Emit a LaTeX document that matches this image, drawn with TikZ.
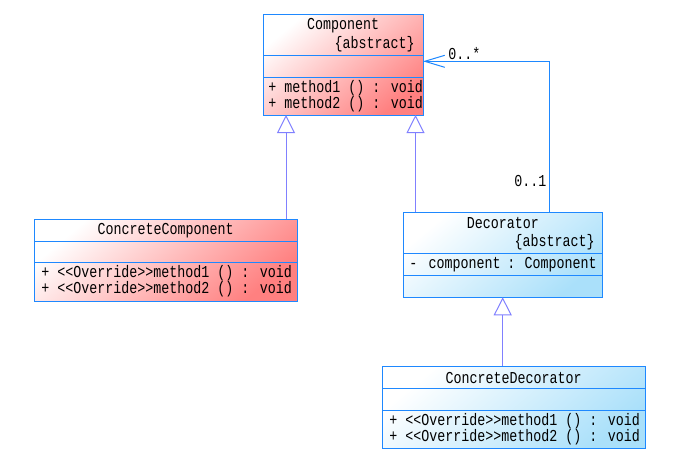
\documentclass[tikz,border=0pt]{standalone}
\usepackage{fontspec}
\newfontfamily\umlfont{Liberation Mono}
\usetikzlibrary{arrows.meta}
\definecolor{bordc}{RGB}{30,136,255}
\definecolor{inhc}{RGB}{128,128,255}
\definecolor{redend}{RGB}{255,128,128}
\definecolor{blueend}{RGB}{170,224,250}
\newcommand\umltxt[1]{\scalebox{1}[1.25]{#1}}
\tikzset{
  classbox/.style={rectangle, draw=bordc, line width=0.75pt, inner sep=0pt, outer sep=0pt},
  redbox/.style={classbox, top color=white, bottom color=redend, shading angle=40},
  bluebox/.style={classbox, top color=white, bottom color=blueend, shading angle=40},
  divider/.style={draw=bordc, line width=0.75pt},
  txt/.style={font=\umlfont\fontsize{10}{12}\selectfont, inner sep=0pt, text=black},
  inh/.style={draw=inhc, line width=0.75pt, -{Triangle[open, length=13.5pt, width=13.5pt]}},
  assoc/.style={draw=bordc, line width=0.75pt, -{Straight Barb[length=15pt, width=9pt]}}
}
\begin{document}
\begin{tikzpicture}[x=0.75pt, y=-0.75pt]
\useasboundingbox (0,0) rectangle (698,462);
% classes
\node[redbox, minimum width=120pt, minimum height=75.75pt] (comp) at (343,64.5) {};
\draw[divider] (comp.west |- 0,55.5) -- (comp.east |- 0,55.5);
\draw[divider] (comp.west |- 0,77) -- (comp.east |- 0,77);
\node[txt] (compname) at (343,26) {\umltxt{Component}};
\node[txt, anchor=east] (compabs) at (415,44) {\umltxt{\{abstract\}}};
\node[txt, anchor=west] (compm1) at (268,88) {\umltxt{+ method1 () : void}};
\node[txt, anchor=west] (compm2) at (268,104) {\umltxt{+ method2 () : void}};

\node[redbox, minimum width=197.25pt, minimum height=61.5pt] (cc) at (165.75,260) {};
\draw[divider] (cc.west |- 0,241.7) -- (cc.east |- 0,241.7);
\draw[divider] (cc.west |- 0,262.3) -- (cc.east |- 0,262.3);
\node[txt] (ccname) at (165.75,231) {\umltxt{ConcreteComponent}};
\node[txt, anchor=west] (ccm1) at (41,273) {\umltxt{+ <<Override>>method1 () : void}};
\node[txt, anchor=west] (ccm2) at (41,289) {\umltxt{+ <<Override>>method2 () : void}};

\node[bluebox, minimum width=149.25pt, minimum height=63.75pt] (dec) at (502.75,254.75) {};
\draw[divider] (dec.west |- 0,253.3) -- (dec.east |- 0,253.3);
\draw[divider] (dec.west |- 0,275.3) -- (dec.east |- 0,275.3);
\node[txt] (decname) at (502.75,223.5) {\umltxt{Decorator}};
\node[txt, anchor=east] (decabs) at (595,242) {\umltxt{\{abstract\}}};
\node[txt, anchor=west] (decattr) at (409,264.5) {\umltxt{-\hspace{8.5pt}component\hspace{-1pt} : \hspace{-1pt}Component}};

\node[bluebox, minimum width=197.25pt, minimum height=61.5pt] (cd) at (513.75,407) {};
\draw[divider] (cd.west |- 0,388.3) -- (cd.east |- 0,388.3);
\draw[divider] (cd.west |- 0,410.3) -- (cd.east |- 0,410.3);
\node[txt] (cdname) at (513.75,377.5) {\umltxt{ConcreteDecorator}};
\node[txt, anchor=west] (cdm1) at (389,421) {\umltxt{+ <<Override>>method1 () : void}};
\node[txt, anchor=west] (cdm2) at (389,437) {\umltxt{+ <<Override>>method2 () : void}};

% connectors
\draw[inh] (cc.north -| 286,0) -- (comp.south -| 286,0);
\draw[inh] (dec.north -| 415.5,0) -- (comp.south -| 415.5,0);
\draw[inh] (cd.north -| 502.7,0) -- (dec.south -| 502.7,0);
\draw[assoc] (dec.north -| 549,0) |- (comp.east |- 0,61.3);
\node[txt, anchor=west] (lblmany) at (448,53.5) {\umltxt{0..*}};
\node[txt, anchor=west] (lblone) at (514,181) {\umltxt{0..1}};
\end{tikzpicture}
\end{document}
